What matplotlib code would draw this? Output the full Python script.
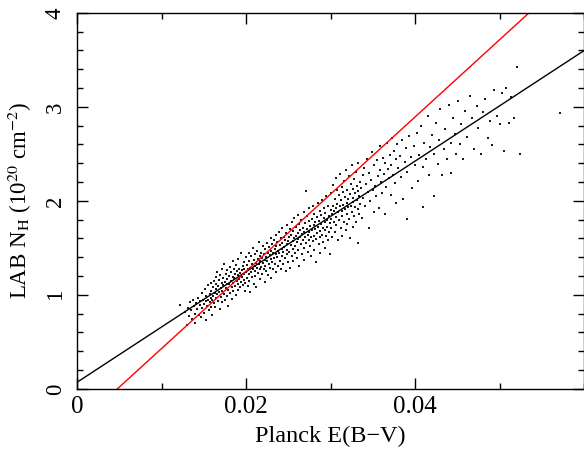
import matplotlib
matplotlib.use("Agg")
import matplotlib.pyplot as plt
from matplotlib.ticker import MultipleLocator
import numpy as np

plt.rcParams['font.family'] = ['Liberation Serif', 'DejaVu Serif']
plt.rcParams['mathtext.fontset'] = 'stix'

# Planck E(B-V) vs LAB N_H (1e20 cm^-2)
pts = [
    # 0.012 - 0.016
    (0.0122,0.89),(0.0128,0.82),(0.0130,0.68),(0.0131,0.86),(0.0133,0.78),(0.0134,0.92),(0.0135,0.84),
    (0.0136,0.74),(0.0137,0.95),(0.0138,0.88),(0.0139,0.80),(0.0140,0.70),(0.0141,0.91),(0.0142,0.85),
    (0.0143,0.97),(0.0144,0.79),(0.0145,0.89),(0.0146,0.93),(0.0147,0.76),(0.0148,1.02),(0.0148,0.86),
    (0.0149,0.95),(0.0150,0.90),(0.0150,0.81),(0.0151,1.06),(0.0152,0.93),(0.0152,0.73),(0.0153,0.99),
    (0.0154,0.88),(0.0155,1.10),(0.0155,0.95),(0.0156,0.84),(0.0157,1.01),(0.0157,0.92),(0.0158,1.13),
    (0.0158,0.97),(0.0159,0.87),(0.0159,1.04),(0.0160,0.79),(0.0160,0.95),
    # 0.016 - 0.020
    (0.0161,1.08),(0.0161,0.99),(0.0162,0.91),(0.0162,1.15),(0.0163,1.02),(0.0163,0.87),(0.0164,1.19),
    (0.0164,1.06),(0.0165,0.97),(0.0165,1.12),(0.0166,1.24),(0.0166,1.01),(0.0167,0.93),(0.0167,1.09),
    (0.0168,1.16),(0.0168,1.03),(0.0169,0.85),(0.0169,1.21),(0.0170,1.07),(0.0170,0.98),(0.0171,1.13),
    (0.0171,1.28),(0.0172,1.04),(0.0172,0.92),(0.0173,1.18),(0.0173,1.10),(0.0174,1.01),(0.0174,1.33),
    (0.0175,1.14),(0.0175,0.95),(0.0176,1.22),(0.0176,1.07),(0.0177,1.12),(0.0177,0.99),(0.0178,1.26),
    (0.0178,1.17),(0.0179,1.05),(0.0179,0.88),(0.0180,1.20),(0.0180,1.11),(0.0181,1.30),(0.0181,1.02),
    (0.0182,1.15),(0.0182,1.24),(0.0183,1.08),(0.0183,0.96),(0.0184,1.19),(0.0184,1.36),(0.0185,1.13),
    (0.0185,1.04),(0.0186,1.27),(0.0186,1.18),(0.0187,1.09),(0.0187,1.22),(0.0188,1.00),(0.0188,1.32),
    (0.0189,1.15),(0.0189,1.25),(0.0190,1.11),(0.0190,1.05),(0.0191,1.21),(0.0191,1.38),(0.0192,1.17),
    (0.0192,1.28),(0.0193,1.08),(0.0193,1.23),(0.0194,1.14),(0.0194,1.45),(0.0195,1.26),(0.0195,1.19),
    (0.0196,1.31),(0.0196,1.10),(0.0197,1.22),(0.0197,1.16),(0.0198,1.35),(0.0198,1.27),(0.0199,1.13),
    (0.0199,1.04),(0.0200,1.24),(0.0200,1.40),
    # 0.020 - 0.025
    (0.0201,1.18),(0.0201,1.32),(0.0202,1.09),(0.0202,1.27),(0.0203,1.44),(0.0203,1.22),(0.0204,1.15),
    (0.0204,1.36),(0.0205,1.29),(0.0205,1.03),(0.0206,1.41),(0.0206,1.24),(0.0207,1.33),(0.0207,1.19),
    (0.0208,1.50),(0.0208,1.28),(0.0209,1.12),(0.0209,1.37),(0.0210,1.25),(0.0210,1.31),(0.0211,1.43),
    (0.0211,1.20),(0.0212,1.34),(0.0212,1.08),(0.0213,1.29),(0.0213,1.47),(0.0214,1.38),(0.0214,1.23),
    (0.0215,1.33),(0.0215,1.56),(0.0216,1.27),(0.0216,1.41),(0.0217,1.17),(0.0217,1.36),(0.0218,1.45),
    (0.0218,1.30),(0.0219,1.22),(0.0219,1.39),(0.0220,1.52),(0.0220,1.34),(0.0221,1.28),(0.0221,1.43),
    (0.0222,1.14),(0.0222,1.37),(0.0223,1.49),(0.0223,1.31),(0.0224,1.40),(0.0224,1.25),(0.0225,1.55),
    (0.0225,1.36),(0.0226,1.45),(0.0226,1.21),(0.0227,1.33),(0.0227,1.51),(0.0228,1.42),(0.0228,1.29),
    (0.0229,1.60),(0.0229,1.38),(0.0230,1.47),(0.0230,1.18),(0.0231,1.35),(0.0231,1.54),(0.0232,1.44),
    (0.0232,1.27),(0.0233,1.39),(0.0233,1.58),(0.0234,1.49),(0.0234,1.33),(0.0235,1.43),(0.0235,1.64),
    (0.0236,1.24),(0.0236,1.52),(0.0237,1.40),(0.0237,1.56),(0.0238,1.47),(0.0238,1.31),(0.0239,1.67),
    (0.0239,1.44),(0.0240,1.53),(0.0240,1.36),(0.0241,1.60),(0.0241,1.28),(0.0242,1.49),(0.0242,1.41),
    (0.0243,1.71),(0.0243,1.55),(0.0244,1.46),(0.0244,1.33),(0.0245,1.62),(0.0245,1.51),(0.0246,1.39),
    (0.0246,1.58),(0.0247,1.25),(0.0247,1.66),(0.0248,1.48),(0.0248,1.54),(0.0249,1.43),(0.0249,1.74),
    (0.0250,1.57),(0.0250,1.35),
    # 0.025 - 0.030
    (0.0251,1.61),(0.0251,1.46),(0.0252,1.70),(0.0252,1.29),(0.0253,1.53),(0.0253,1.64),(0.0254,1.41),
    (0.0254,1.78),(0.0255,1.57),(0.0255,1.49),(0.0256,1.68),(0.0256,1.36),(0.0257,1.60),(0.0257,1.82),
    (0.0258,1.52),(0.0258,1.45),(0.0259,1.72),(0.0259,1.63),(0.0260,1.56),(0.0260,1.39),(0.0261,1.66),
    (0.0261,1.85),(0.0262,1.59),(0.0262,1.48),(0.0263,1.75),(0.0263,1.31),(0.0264,1.62),(0.0264,1.69),
    (0.0265,1.54),(0.0265,1.80),(0.0266,1.43),(0.0266,1.65),(0.0267,1.71),(0.0267,1.58),(0.0268,1.88),
    (0.0268,1.50),(0.0269,1.67),(0.0269,1.37),(0.0270,1.76),(0.0270,1.61),(0.0271,2.10),(0.0271,1.55),
    (0.0272,1.70),(0.0272,1.84),(0.0273,1.46),(0.0273,1.64),(0.0274,1.79),(0.0274,1.58),(0.0275,1.67),
    (0.0275,1.92),(0.0276,1.52),(0.0276,1.73),(0.0277,1.62),(0.0277,1.41),(0.0278,1.81),(0.0278,1.69),
    (0.0279,1.57),(0.0279,1.95),(0.0280,1.74),(0.0280,1.63),(0.0281,1.48),(0.0281,1.86),(0.0282,1.70),
    (0.0282,1.77),(0.0283,1.59),(0.0283,1.35),(0.0284,1.83),(0.0284,1.66),(0.0285,1.98),(0.0285,1.72),
    (0.0286,1.54),(0.0286,1.79),(0.0287,1.68),(0.0287,1.89),(0.0288,1.61),(0.0288,1.45),(0.0289,1.85),
    (0.0289,1.75),(0.0290,1.64),(0.0290,2.01),(0.0291,1.71),(0.0291,1.56),(0.0292,1.82),(0.0292,1.92),
    (0.0293,1.69),(0.0293,1.50),(0.0294,1.87),(0.0294,1.77),(0.0295,1.63),(0.0295,2.05),(0.0296,1.80),
    (0.0296,1.72),(0.0297,1.58),(0.0297,1.94),(0.0298,1.84),(0.0298,1.67),(0.0299,1.76),(0.0299,1.43),
    (0.0300,1.90),(0.0300,1.81),
    # 0.030 - 0.0335
    (0.0301,1.71),(0.0301,2.08),(0.0302,1.86),(0.0302,1.62),(0.0303,1.95),(0.0303,2.17),(0.0304,1.78),
    (0.0304,1.89),(0.0305,2.02),(0.0305,1.67),(0.0306,1.92),(0.0306,2.24),(0.0307,1.83),(0.0307,1.74),
    (0.0308,2.11),(0.0308,1.97),(0.0309,1.58),(0.0309,1.88),(0.0310,2.06),(0.0310,1.80),(0.0311,1.94),
    (0.0311,2.29),(0.0312,1.71),(0.0312,2.01),(0.0313,1.89),(0.0313,2.15),(0.0314,1.84),(0.0314,1.63),
    (0.0315,2.09),(0.0315,1.96),(0.0316,2.21),(0.0316,1.77),(0.0317,1.91),(0.0317,2.04),(0.0318,1.69),
    (0.0318,2.33),(0.0319,1.98),(0.0319,1.86),(0.0320,2.12),(0.0320,1.75),(0.0321,2.02),(0.0321,1.93),
    (0.0322,2.26),(0.0322,1.81),(0.0323,1.60),(0.0323,2.07),(0.0324,1.95),(0.0324,2.18),(0.0325,1.88),
    (0.0325,2.38),(0.0326,2.03),(0.0326,1.72),(0.0327,2.13),(0.0327,1.99),(0.0328,1.84),(0.0328,2.23),
    (0.0329,2.08),(0.0329,1.93),(0.0330,2.31),(0.0330,1.77),(0.0331,2.01),(0.0331,2.16),(0.0332,1.91),
    (0.0332,1.55),(0.0333,2.10),(0.0333,2.40),(0.0334,2.05),(0.0334,1.86),(0.0335,2.20),(0.0335,1.97),
    # 0.0335 - 0.040
    (0.0336,2.14),(0.0337,1.82),(0.0338,2.27),(0.0339,2.03),(0.0340,2.35),(0.0341,1.94),(0.0342,2.18),
    (0.0343,2.45),(0.0344,2.09),(0.0345,1.71),(0.0346,2.30),(0.0347,2.00),(0.0348,2.22),(0.0349,2.52),
    (0.0350,2.12),(0.0351,1.88),(0.0352,2.38),(0.0353,2.16),(0.0354,2.05),(0.0355,2.43),(0.0356,2.26),
    (0.0357,1.92),(0.0358,2.33),(0.0359,2.58),(0.0360,2.20),(0.0361,2.08),(0.0362,2.46),(0.0363,2.29),
    (0.0364,1.86),(0.0365,2.40),(0.0366,2.15),(0.0367,2.62),(0.0368,2.34),(0.0369,2.24),(0.0370,2.49),
    (0.0371,2.06),(0.0372,2.38),(0.0373,2.67),(0.0374,2.28),(0.0375,2.53),(0.0376,2.19),(0.0377,2.44),
    (0.0378,1.98),(0.0379,2.60),(0.0380,2.35),(0.0382,2.48),(0.0383,2.25),(0.0385,2.65),(0.0386,2.02),
    (0.0388,2.41),(0.0389,2.56),(0.0390,1.81),(0.0391,2.31),(0.0393,2.69),(0.0395,2.47),(0.0397,2.14),
    (0.0399,2.58),(0.0400,2.38),
    # 0.040 - 0.046
    (0.0402,2.72),(0.0404,2.21),(0.0405,2.49),(0.0407,2.80),(0.0409,2.36),(0.0410,1.93),(0.0411,2.62),
    (0.0413,2.45),(0.0415,2.90),(0.0416,2.28),(0.0418,2.57),(0.0420,2.70),(0.0422,2.05),(0.0423,2.50),
    (0.0425,2.83),(0.0427,2.39),(0.0428,2.65),(0.0430,2.98),(0.0432,2.27),(0.0434,2.55),(0.0436,2.76),
    (0.0438,2.45),(0.0440,3.02),(0.0442,2.62),(0.0443,2.30),(0.0445,2.88),(0.0447,2.71),(0.0449,2.50),
    (0.0451,3.06),(0.0453,2.60),(0.0455,2.82),(0.0457,2.44),(0.0459,2.96),
    # 0.046 - 0.058
    (0.0462,2.68),(0.0465,3.12),(0.0468,2.88),(0.0470,2.55),(0.0473,3.01),(0.0475,2.78),(0.0478,2.50),
    (0.0480,2.95),(0.0483,3.08),(0.0486,2.67),(0.0489,2.85),(0.0491,2.59),(0.0494,3.18),(0.0497,2.90),
    (0.0500,2.82),(0.0503,3.15),(0.0505,2.53),(0.0508,3.20),(0.0511,2.83),(0.0514,3.10),(0.0517,2.88),
    (0.0521,3.42),(0.0524,2.50),(0.0572,2.93),
]
ebv = [p[0] for p in pts]
nh = [p[1] for p in pts]

# fitted relations (slope, intercept)
fit_black = (58.8, 0.07)
fit_red = (82.1, -0.392)

fig = plt.figure(figsize=(5.84, 4.58), dpi=100)
ax = fig.add_axes([0.132, 0.151, 0.868, 0.821])

ax.scatter(ebv, nh, s=1.0, marker='s', c='#1a1a1a', linewidths=0)

xx = np.array([0.0, 0.06])
ax.plot(xx, fit_black[0] * xx + fit_black[1], color='black', lw=1.0)
ax.plot(xx, fit_red[0] * xx + fit_red[1], color='red', lw=1.0)

ax.set_xlim(0, 0.06)
ax.set_ylim(0, 4)
ax.xaxis.set_minor_locator(MultipleLocator(0.01))
ax.yaxis.set_minor_locator(MultipleLocator(0.2))
ax.set_xticks([0, 0.02, 0.04])
ax.set_xticklabels(['0', '0.02', '0.04'], fontsize=18)
ax.set_yticks([0, 1, 2, 3, 4])
ax.set_yticklabels(['0', '1', '2', '3', '4'], rotation=90, va='center', fontsize=16.5)

ax.tick_params(which='both', direction='in', top=True, right=True, width=1.0)
ax.tick_params(which='major', length=8)
ax.tick_params(which='minor', length=4.5)
ax.tick_params(axis='x', pad=5)
ax.tick_params(axis='y', pad=8)
for s in ax.spines.values():
    s.set_linewidth(1.0)

ax.set_xlabel('Planck E(B\u2212V)', fontsize=17.5, labelpad=6)
ax.set_ylabel(r'LAB N$_\mathrm{H}$ (10$^{20}$ cm$^{-2}$)', fontsize=16.5, labelpad=8)

fig.savefig('out.png', dpi=100)
